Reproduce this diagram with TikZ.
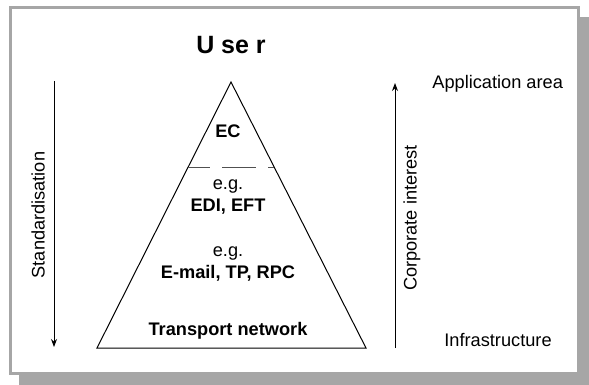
\documentclass[tikz,border=0pt]{standalone}
\usepackage{fontspec}
\setmainfont{Liberation Sans}
\usetikzlibrary{arrows.meta, positioning, calc}
\definecolor{framegray}{RGB}{166, 166, 166}
\definecolor{dashgray}{RGB}{80, 80, 80}

\begin{document}
\begin{tikzpicture}[x=0.5pt, y=-0.5pt,
  lbl/.style={font=\fontsize{9.1pt}{10.6pt}\selectfont, inner sep=0pt, align=center},
  boldlbl/.style={lbl, font=\fontsize{9.1pt}{10.6pt}\selectfont\bfseries},
  axisarrow/.style={-{Stealth[length=4pt, width=3pt]}, line width=0.5pt}]
  \useasboundingbox (0,0) rectangle (589,385);

  % Frame with shadow
  \fill[framegray] (19,17) rectangle (589,385);
  \draw[framegray, line width=1.5pt, fill=white] (10,8) rectangle (578,373);

  % Title
  \node[font=\fontsize{12.5pt}{14pt}\selectfont\bfseries] (user) at (231,45) {U se r};

  % Pyramid
  \coordinate (apex) at (231,82);
  \coordinate (baseL) at (97,348);
  \coordinate (baseR) at (366,348);
  \draw[line width=0.5pt] (apex) -- (baseL) -- (baseR) -- cycle;
  \coordinate (cutL) at ($(apex)!0.32!(baseL)$);
  \coordinate (cutR) at ($(apex)!0.32!(baseR)$);
  \draw[dashgray, line width=0.5pt, dash pattern=on 17pt off 6pt, dash phase=6pt] (cutL) -- (cutR);

  % Layers
  \node[boldlbl] (ec) at (228,131) {EC};
  \node[lbl] (edi) at (228,197) {e.g.\\\textbf{EDI, EFT}};
  \node[lbl] (email) at (228,264) {e.g.\\\textbf{E-mail, TP, RPC}};
  \node[boldlbl] (transport) at (228,331) {Transport network};

  % Standardisation axis
  \coordinate (stdtop) at (54,81);
  \coordinate (stdbot) at (54,347);
  \draw[axisarrow] (stdtop) -- (stdbot);
  \node[lbl, rotate=90] (std) at (38,215) {Standardisation};

  % Corporate interest axis
  \coordinate (corpbot) at (395,348);
  \coordinate (corptop) at (395,83);
  \draw[axisarrow] (corpbot) -- (corptop);
  \node[lbl, rotate=90] (corp) at (412,218) {Corporate interest};

  \node[lbl, anchor=west] (app) at (432,84) {Application area};
  \node[lbl, anchor=west] (infra) at (444,340) {Infrastructure};
\end{tikzpicture}
\end{document}
